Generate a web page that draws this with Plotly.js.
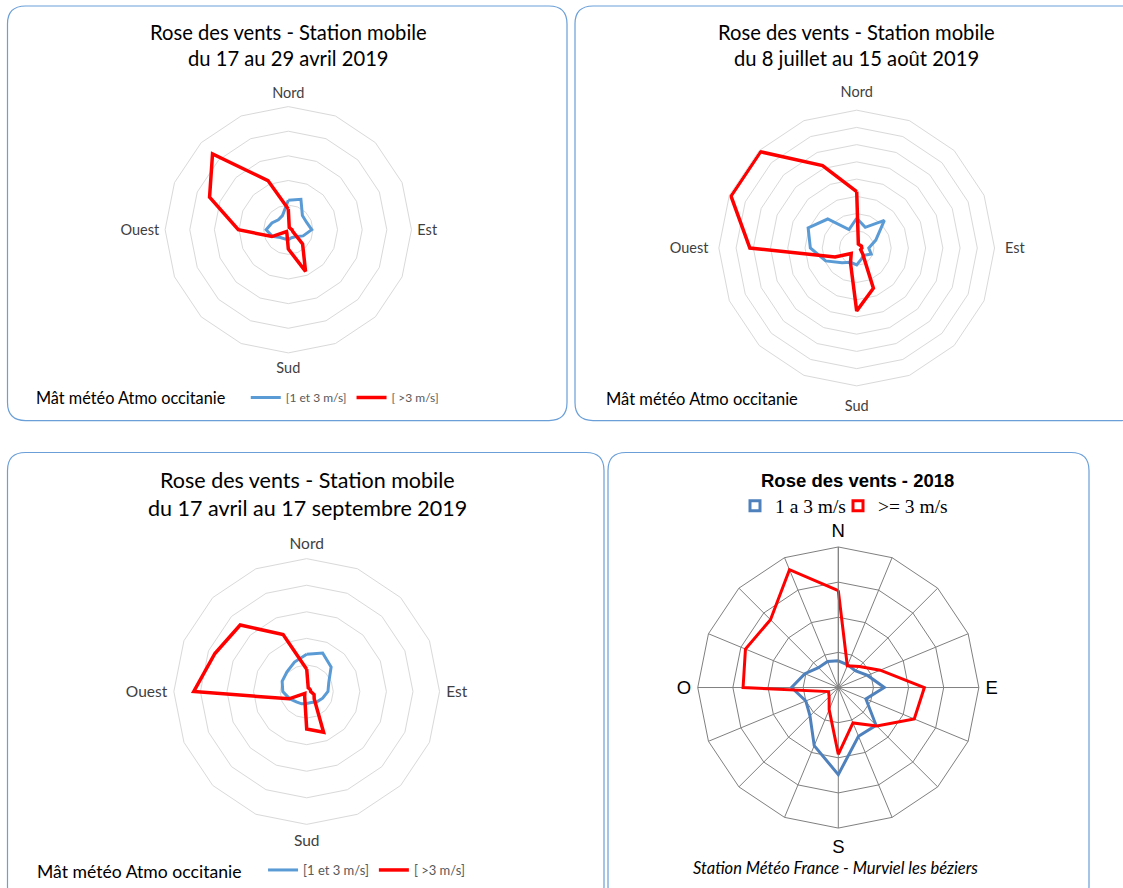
<!DOCTYPE html>
<html>
<head>
<meta charset="utf-8">
<script src="https://cdn.plot.ly/plotly-3.0.1.min.js"></script>
<style>html,body{margin:0;padding:0;background:#fff;}#chart{width:1123px;height:888px;}</style>
</head>
<body>
<div id="chart"></div>
<script>
// ---- Data ----
const directions = ['N','NNE','NE','ENE','E','ESE','SE','SSE','S','SSO','SO','OSO','O','ONO','NO','NNO'];
const labelsMobile = {N:'Nord', E:'Est', S:'Sud', O:'Ouest'};
const labels2018 = {N:'N', E:'E', S:'S', O:'O'};

// Panel 1 : du 17 au 29 avril 2019
const avril_1_3 = [1.2, 1.34, 0.81, 0.8, 0.95, 0.65, 0.4, 0.35, 0.4, 0.4, 0.45, 0.7, 0.9, 0.72, 0.57, 0.62];
const avril_sup3 = [0.84, 0.1, 0.1, 0.1, 0.15, 0.2, 0.82, 1.83, 0.78, 0.15, 0.1, 0.72, 2.03, 3.46, 4.35, 2.16];
// Panel 2 : du 8 juillet au 15 août 2019
const ete_1_3 = [1.73, 1.3, 2.27, 1.2, 0.7, 0.91, 0.6, 0.7, 0.98, 0.9, 1.2, 1.95, 2.69, 3.05, 2.38, 1.16];
const ete_sup3 = [3.27, 0.25, 0.25, 0.3, 0.3, 0.25, 0.5, 2.53, 3.65, 0.94, 0.45, 1.36, 6.2, 7.9, 7.9, 5.18];
// Panel 3 : du 17 avril au 17 septembre 2019
const total_1_3 = [1.4, 1.57, 1.3, 0.9, 0.8, 0.65, 0.55, 0.45, 0.45, 0.5, 0.55, 0.7, 0.9, 1.0, 1.05, 1.2];
const total_sup3 = [0.84, 0.15, 0.15, 0.15, 0.15, 0.3, 0.4, 1.66, 1.41, 0.2, 0.1, 0.72, 4.25, 3.74, 3.54, 2.32];
// Panel 4 : 2018, Météo France Murviel
const y2018_1_3 = [0.76, 0.7, 0.68, 0.9, 1.31, 0.85, 1.52, 1.5, 2.48, 1.79, 1.14, 1.0, 1.33, 1.03, 0.8, 0.8];
const y2018_sup3 = [2.76, 0.67, 0.85, 1.29, 2.45, 2.34, 1.55, 1.09, 1.9, 0.68, 0.37, 0.3, 2.71, 2.86, 2.73, 3.63];

const seriesNamesMobile = ['[1 et 3 m/s]', '[ >3 m/s]'];
const seriesNames2018 = ['1 a 3 m/s', '>= 3 m/s'];

// ---- Helpers ----
const W = 1123, H = 888;
const px = x => x / W;
const py = y => 1 - y / H;
const close = a => a.concat([a[0]]);
const thetaClosed = close(directions);

function domain(cx, cy, r) {
  return {x: [px(cx - r), px(cx + r)], y: [py(cy + r), py(cy - r)]};
}
function polar(cx, cy, r, nRings, opts) {
  return {
    domain: domain(cx, cy, r),
    bgcolor: 'rgba(0,0,0,0)',
    gridshape: 'linear',
    radialaxis: {
      range: [0, nRings], dtick: 1, tick0: 0,
      showticklabels: false, ticks: '', showline: opts.radialLine || false,
      linecolor: opts.grid, linewidth: 1, angle: 90,
      gridcolor: opts.grid, gridwidth: 1
    },
    angularaxis: {
      type: 'category', categoryarray: directions, categoryorder: 'array',
      rotation: 90, direction: 'clockwise',
      tickmode: 'array', tickvals: directions,
      ticktext: directions.map(d => opts.labels[d] || ''),
      ticks: 'outside', ticklen: opts.ticklen, tickcolor: 'rgba(0,0,0,0)',
      showgrid: opts.spokes, gridcolor: opts.grid, gridwidth: 1,
      showline: true, linecolor: opts.grid, linewidth: 1,
      tickfont: opts.tickfont
    }
  };
}

const blueM = '#5b9bd5', red = '#ff0000', blue18 = '#4f81bd';
const calib = 'Lato, "Open Sans", sans-serif';

function trace(vals, name, sub, color, width, legend, show) {
  return {
    type: 'scatterpolar', mode: 'lines',
    r: close(vals), theta: thetaClosed, name: name,
    subplot: sub, legend: legend, showlegend: show,
    line: {color: color, width: width}, hoverinfo: 'skip'
  };
}
function legendKey(name, color, legend) {
  return {type:'scatterpolar', mode:'markers', r:[null], theta:[null], subplot:'polar4', legend: legend,
    name: name, showlegend: true, hoverinfo: 'skip',
    marker: {symbol:'square-open', size:10, color: color, line:{width:3, color: color}}};
}

const data = [
  trace(avril_1_3, seriesNamesMobile[0], 'polar', blueM, 3, 'legend', true),
  trace(avril_sup3, seriesNamesMobile[1], 'polar', red, 3.5, 'legend', true),
  trace(ete_1_3, seriesNamesMobile[0], 'polar2', blueM, 3, 'legend', false),
  trace(ete_sup3, seriesNamesMobile[1], 'polar2', red, 3.5, 'legend', false),
  trace(total_1_3, seriesNamesMobile[0], 'polar3', blueM, 3, 'legend2', true),
  trace(total_sup3, seriesNamesMobile[1], 'polar3', red, 3.5, 'legend2', true),
  trace(y2018_1_3, seriesNames2018[0], 'polar4', blue18, 3, 'legend3', false),
  trace(y2018_sup3, seriesNames2018[1], 'polar4', red, 3, 'legend3', false),
  legendKey(seriesNames2018[0], blue18, 'legend3'),
  legendKey(seriesNames2018[1], red, 'legend4')
];

function roundRect(x0, y0, x1, y1, rad, color) {
  const p = (x, y) => px(x) + ',' + py(y);
  const path = 'M' + p(x0 + rad, y0) + ' L' + p(x1 - rad, y0) + ' Q' + p(x1, y0) + ' ' + p(x1, y0 + rad) +
    ' L' + p(x1, y1 - rad) + ' Q' + p(x1, y1) + ' ' + p(x1 - rad, y1) +
    ' L' + p(x0 + rad, y1) + ' Q' + p(x0, y1) + ' ' + p(x0, y1 - rad) +
    ' L' + p(x0, y0 + rad) + ' Q' + p(x0, y0) + ' ' + p(x0 + rad, y0) + ' Z';
  return {type: 'path', xref: 'paper', yref: 'paper', path: path, line: {color: color, width: 1.2}, layer: 'below'};
}

function ann(text, x, y, size, opts) {
  opts = opts || {};
  return Object.assign({
    text: text, x: px(x), y: py(y), xref: 'paper', yref: 'paper',
    xanchor: 'center', yanchor: 'middle', showarrow: false,
    font: {family: calib, size: size, color: '#000'}
  }, opts);
}

const grid = '#d9d9d9';
const tickM = s => ({family: calib, size: s, color: '#404040'});
const gap = '\u00a0\u00a0\u00a0';
const serif = '"Liberation Serif", "Times New Roman", serif';

const layout = {
  width: W, height: H,
  margin: {l: 0, r: 0, t: 0, b: 0},
  paper_bgcolor: '#fff',
  polar: polar(288.3, 230, 123.3, 5, {grid: grid, spokes: false, labels: labelsMobile, tickfont: tickM(14.5), ticklen: 2.5}),
  polar2: polar(856.7, 248.3, 138, 8, {grid: grid, spokes: false, labels: labelsMobile, tickfont: tickM(14.5), ticklen: 7}),
  polar3: polar(306.7, 692.3, 133, 5, {grid: grid, spokes: false, labels: labelsMobile, tickfont: tickM(15.5), ticklen: 3}),
  polar4: polar(838.3, 688.3, 140.7, 4, {grid: '#808080', spokes: true, radialLine: true, labels: labels2018,
    tickfont: {family: '"Liberation Sans", Arial, sans-serif', size: 18.5, color: '#000'}, ticklen: 2.5}),
  legend: {
    x: px(34), y: py(399), xanchor: 'left', yanchor: 'middle', orientation: 'h',
    bgcolor: 'rgba(0,0,0,0)', borderwidth: 0,
    title: {text: 'Mât météo Atmo occitanie' + gap, side: 'left', font: {family: calib, size: 16.3, color: '#000'}},
    font: {family: calib, size: 12, color: '#595959'}
  },
  legend2: {
    x: px(35), y: py(872), xanchor: 'left', yanchor: 'middle', orientation: 'h',
    bgcolor: 'rgba(0,0,0,0)', borderwidth: 0,
    title: {text: 'Mât météo Atmo occitanie' + gap, side: 'left', font: {family: calib, size: 17.6, color: '#000'}},
    font: {family: calib, size: 13, color: '#595959'}
  },
  legend3: {
    x: px(735), y: py(506), xanchor: 'left', yanchor: 'middle', orientation: 'h',
    bgcolor: 'rgba(0,0,0,0)', borderwidth: 0, itemwidth: 30,
    font: {family: serif, size: 19.5, color: '#000'}
  },
  legend4: {
    x: px(838), y: py(506), xanchor: 'left', yanchor: 'middle', orientation: 'h',
    bgcolor: 'rgba(0,0,0,0)', borderwidth: 0, itemwidth: 30,
    font: {family: serif, size: 19.5, color: '#000'}
  },
  shapes: [
    roundRect(7.5, 6, 567, 421, 18, '#6a9fd8'),
    roundRect(575, 6, 1140, 421, 18, '#6a9fd8'),
    roundRect(7.5, 453, 604, 905, 18, '#6a9fd8'),
    roundRect(608, 453, 1089, 905, 18, '#6a9fd8')
  ],
  annotations: [
    ann('Rose des vents - Station mobile', 288, 32, 20.2),
    ann('du 17 au 29 avril 2019', 288, 58, 20.2),
    ann('Rose des vents - Station mobile', 856, 32, 20.2),
    ann('du 8 juillet au 15 août 2019', 856, 58, 20.2),
    ann('Mât météo Atmo occitanie', 604, 399, 16.5, {xanchor: 'left'}),
    ann('Rose des vents - Station mobile', 307, 481, 21.5),
    ann('du 17 avril au 17 septembre 2019', 307, 509, 21.5),
    ann('<b>Rose des vents - 2018</b>', 857, 481, 18.5, {font: {family: '"Liberation Sans", Arial, sans-serif', size: 18.5, color: '#000'}}),
    ann('<i>Station Météo France - Murviel les béziers</i>', 835, 869, 16.5)
  ]
};

Plotly.newPlot('chart', data, layout, {displayModeBar: false, staticPlot: true});
</script>
</body>
</html>
